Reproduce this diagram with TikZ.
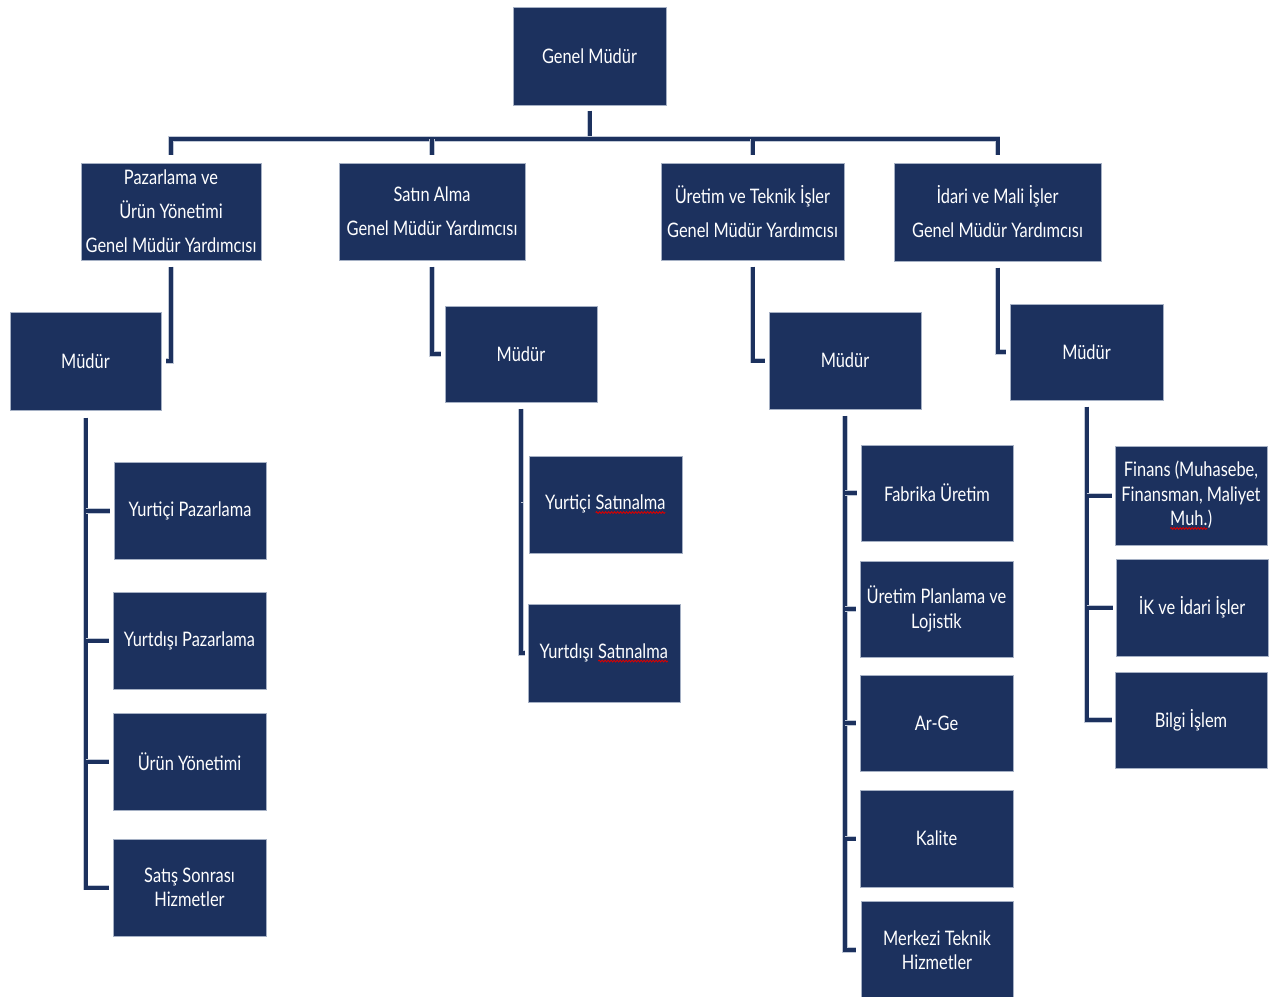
\documentclass[tikz,border=0pt]{standalone}
\usepackage{fontspec}
\setmainfont{Lato}[FakeStretch=0.82]
\usetikzlibrary{decorations.pathmorphing}
\definecolor{navy}{RGB}{28,49,94}
\definecolor{edge}{RGB}{165,176,196}
\newcommand\wavy[1]{\tikz[baseline=(w.base)]{\node[shape=rectangle,inner sep=0pt,outer sep=0pt,draw=none,fill=none,text=white,minimum width=0pt,minimum height=0pt,align=left] (w) {#1};\draw[draw=red!85!black,fill=none,line width=0.9pt,decorate,decoration={snake,amplitude=0.9pt,segment length=3pt}] ([yshift=-2.5pt]w.south west) -- ([yshift=-2.5pt]w.south east);}}
\begin{document}
\begin{tikzpicture}[x=1pt,y=-1pt,
  box/.style={draw=edge,line width=1pt,fill=navy,text=white,align=center,inner sep=2pt},
  topbox/.style={box,font=\fontsize{20}{34}\selectfont},
  subbox/.style={box,font=\fontsize{20}{24.5}\selectfont,minimum width=153pt,minimum height=97pt},
  conn/.style={draw=navy,line width=4pt,line join=miter,preaction={draw=edge!70,line width=5.2pt}}]
\useasboundingbox (0,0) rectangle (1284,996);
% level 0 and 1
\node[topbox,minimum width=153pt,minimum height=98pt] (gm) at (589.5,56) {Genel Müdür};
\node[topbox,minimum width=180pt,minimum height=97pt] (a) at (171,211.5) {Pazarlama ve\\Ürün Yönetimi\\Genel Müdür Yardımcısı};
\node[topbox,minimum width=186pt,minimum height=97pt] (b) at (432,211.5) {Satın Alma\\Genel Müdür Yardımcısı};
\node[topbox,minimum width=183pt,minimum height=97pt] (c) at (752.5,211.5) {Üretim ve Teknik İşler\\Genel Müdür Yardımcısı};
\node[topbox,minimum width=207pt,minimum height=98pt] (d) at (997.5,212) {İdari ve Mali İşler\\Genel Müdür Yardımcısı};
% managers
\node[subbox,minimum width=151pt,minimum height=98pt] (ma) at (85.5,361) {Müdür};
\node[subbox,minimum width=152pt,minimum height=96pt] (mb) at (521,354) {Müdür};
\node[subbox,minimum width=152pt,minimum height=97pt] (mc) at (845,360.5) {Müdür};
\node[subbox,minimum width=153pt,minimum height=96pt] (md) at (1086.5,352) {Müdür};
% A children
\node[subbox,minimum width=152pt] (a1) at (190,511) {Yurtiçi Pazarlama};
\node[subbox] (a2) at (189.5,640.5) {Yurtdışı Pazarlama};
\node[subbox] (a3) at (189.5,761.5) {Ürün Yönetimi};
\node[subbox] (a4) at (189.5,887.5) {Satış Sonrası\\Hizmetler};
% B children
\node[subbox] (b1) at (605.5,504.5) {Yurtiçi \wavy{Satınalma}};
\node[subbox,minimum width=152pt,minimum height=98pt] (b2) at (604,653) {Yurtdışı \wavy{Satınalma}};
% C children
\node[subbox,minimum width=152pt,minimum height=96pt] (c1) at (937,493) {Fabrika Üretim};
\node[subbox,minimum height=96pt] (c2) at (936.5,609) {Üretim Planlama ve\\Lojistik};
\node[subbox,minimum height=96pt] (c3) at (936.5,723) {Ar-Ge};
\node[subbox] (c4) at (936.5,838.5) {Kalite};
\node[subbox,minimum width=152pt,minimum height=98pt] (c5) at (937,950) {Merkezi Teknik\\Hizmetler};
% D children
\node[subbox,minimum width=152pt,minimum height=99pt] (d1) at (1191,495.5) {Finans (Muhasebe,\\Finansman, Maliyet\\\wavy{Muh.})};
\node[subbox,minimum width=152pt] (d2) at (1192,607.5) {İK ve İdari İşler};
\node[subbox,minimum width=152pt,minimum height=96pt] (d3) at (1191,720) {Bilgi İşlem};
% bus
\coordinate (busy) at (0,139);
\draw[conn] ([yshift=-5pt]gm.south) -- (gm.south |- busy);
\draw[conn] ([yshift=8pt]a.north) -- (a.north |- busy) -- (d.north |- busy) -- ([yshift=8pt]d.north);
\draw[conn] (b.north |- busy) -- ([yshift=8pt]b.north);
\draw[conn] (c.north |- busy) -- ([yshift=8pt]c.north);
% to managers
\draw[conn] ([yshift=-6pt]a.south) |- ([xshift=4pt]ma.east);
\draw[conn] ([yshift=-6pt]b.south) |- ([xshift=-4pt]mb.west);
\draw[conn] ([yshift=-6pt]c.south) |- ([xshift=-4pt]mc.west);
\draw[conn] ([yshift=-6pt]d.south) |- ([xshift=-4pt]md.west);
% A branch
\draw[conn] ([yshift=-7pt]ma.south) |- ([xshift=-4pt]a4.west);
\foreach \n in {a1,a2,a3} \draw[conn] (ma.south |- \n.west) -- ([xshift=-4pt]\n.west);
% B branch
\draw[conn] ([yshift=-6pt]mb.south) |- ([xshift=-3pt]b2.west);
\draw[conn] (mb.south |- b1.west) -- ([xshift=-6pt]b1.west);
% C branch
\draw[conn] ([yshift=-6pt]mc.south) |- ([xshift=-5pt]c5.west);
\foreach \n in {c1,c2,c3,c4} \draw[conn] (mc.south |- \n.west) -- ([xshift=-4pt]\n.west);
% D branch
\draw[conn] ([yshift=-6pt]md.south) |- ([xshift=-3pt]d3.west);
\foreach \n in {d1,d2} \draw[conn] (md.south |- \n.west) -- ([xshift=-3pt]\n.west);
\end{tikzpicture}
\end{document}
